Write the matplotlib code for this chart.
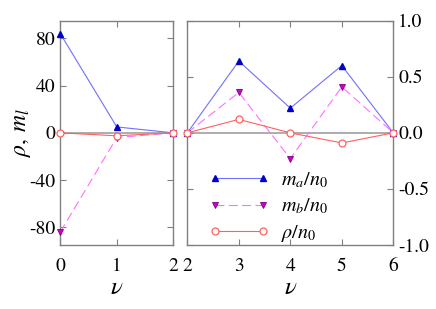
import matplotlib
matplotlib.use("Agg")
import matplotlib.pyplot as plt

plt.rcParams['font.family'] = ['STIXGeneral', 'Liberation Serif', 'DejaVu Serif']
plt.rcParams['mathtext.fontset'] = 'stix'

# left panel data
nu_left = [0, 1, 2]
ma_left = [84, 5, 0]
mb_left = [-84, -4, 0]
rho_left = [0, -2.5, 0]

# right panel data (normalized by n0)
nu_right = [2, 3, 4, 5, 6]
ma_right = [0, 0.64, 0.22, 0.60, 0]
mb_right = [0, 0.36, -0.23, 0.41, 0]
rho_right = [0, 0.12, 0, -0.09, 0]

left_yticks = [-80, -40, 0, 40, 80]
right_yticks = [-1.0, -0.5, 0.0, 0.5, 1.0]

fig = plt.figure(figsize=(4.36, 3.09), dpi=100)
W, H = 436, 309
axL = fig.add_axes([60.3 / W, 1 - 245 / H, (173.3 - 60.3) / W, (245 - 20.7) / H])
axR = fig.add_axes([187.3 / W, 1 - 245 / H, (393.3 - 187.3) / W, (245 - 20.7) / H])

spine_col = '#808080'
blue_line, blue_mk = '#7070ff', '#0000c8'
mag_line, mag_mk, mag_edge = '#ff70ff', '#d000d0', '#800080'
red_line = '#ff6060'

def style(ax):
    for s in ax.spines.values():
        s.set_color(spine_col)
        s.set_linewidth(1.0)
    ax.tick_params(direction='in', length=4, color=spine_col, labelsize=14,
                   top=True, right=True, width=0.8)
    ax.axhline(0, color='#a0a0a0', lw=1.2, zorder=1)

for ax, x, a, b, r in [(axL, nu_left, ma_left, mb_left, rho_left),
                       (axR, nu_right, ma_right, mb_right, rho_right)]:
    style(ax)
    ax.plot(x, a, color=blue_line, lw=0.8, marker='^', ms=4.5,
            mfc=blue_mk, mec=blue_mk, label=r'$m_a/n_0$', zorder=3, clip_on=False)
    ax.plot(x, b, color=mag_line, lw=0.8, ls=(0, (8, 4)), marker='v', ms=4.5,
            mfc=mag_mk, mec=mag_edge, mew=0.6, label=r'$m_b/n_0$', zorder=3, clip_on=False)
    ax.plot(x, r, color=red_line, lw=0.8, marker='o', ms=5,
            mfc='white', mec=red_line, mew=0.9, label=r'$\rho/n_0$', zorder=4, clip_on=False)

axL.set_xlim(0, 2)
axL.set_ylim(-95, 95)
axL.set_xticks(nu_left)
axL.set_yticks(left_yticks)
axL.set_yticklabels([str(t) for t in left_yticks])
axL.tick_params(axis='x', pad=9)
axL.set_xlabel(r'$\nu$', fontsize=18, labelpad=1)
axL.set_ylabel(r'$\rho,\, m_l$', fontsize=17, labelpad=-3)

axR.set_xlim(2, 6)
axR.set_ylim(-1.0, 1.0)
axR.set_xticks(nu_right)
axR.set_yticks(right_yticks)
axR.set_yticklabels(['%.1f' % t for t in right_yticks])
axR.tick_params(axis='y', labelleft=False, labelright=True)
axR.tick_params(axis='x', pad=9)
axR.set_xlabel(r'$\nu$', fontsize=18, labelpad=1)

axR.legend(loc='lower left', bbox_to_anchor=(0.035, -0.06), frameon=False,
           fontsize=14.5, handlelength=3.0, labelspacing=0.35, handletextpad=0.6,
           borderaxespad=0.3, numpoints=2)

fig.savefig('out.png', dpi=100)
